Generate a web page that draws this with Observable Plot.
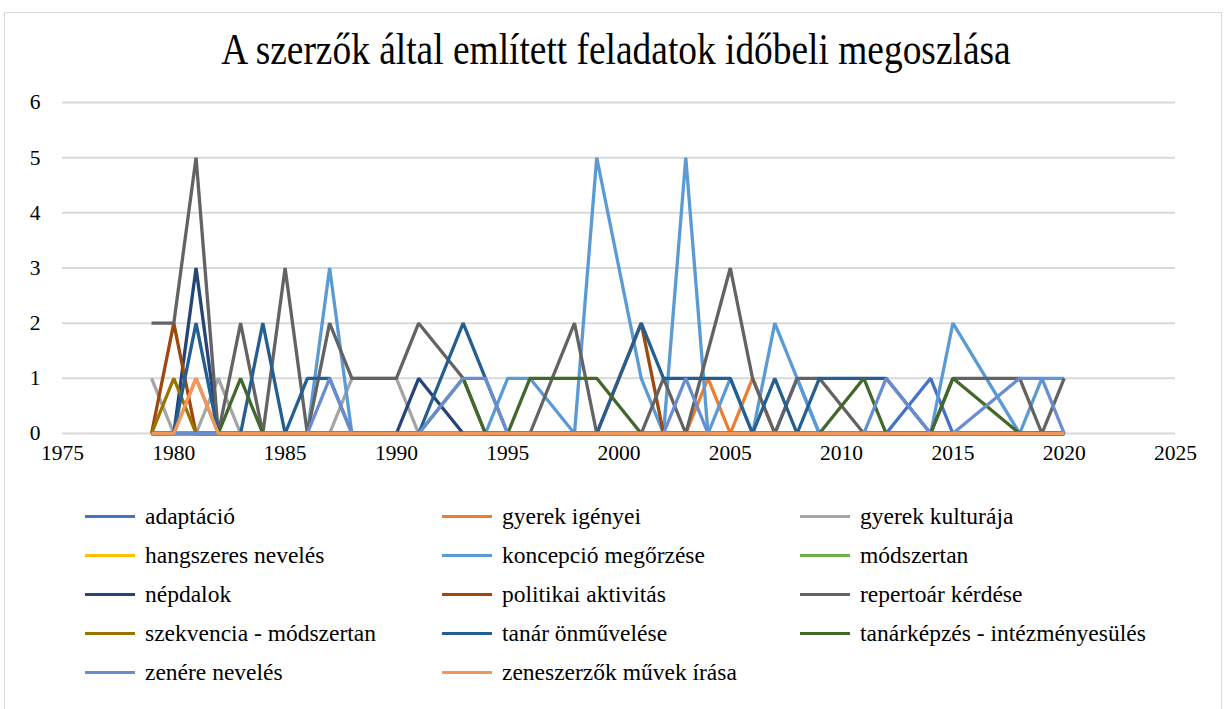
<!DOCTYPE html>
<html>
<head>
<meta charset="utf-8">
<script src="https://cdn.jsdelivr.net/npm/d3@7"></script>
<script src="https://cdn.jsdelivr.net/npm/@observablehq/plot@0.6"></script>
<style>
  html, body { margin: 0; padding: 0; background: #fff; }
  body { width: 1232px; height: 709px; position: relative; overflow: hidden; font-family: "Liberation Serif", Tinos, "Times New Roman", serif; }
  #frame { position: absolute; left: 4px; top: 12px; width: 1218px; height: 720px; border: 1px solid #d9d9d9; box-sizing: border-box; }
  #title { position: absolute; left: 0; top: 25px; width: 1232px; text-align: center; font-size: 44px; line-height: 50px; color: #000; transform: scaleX(0.85); transform-origin: 616px 0; white-space: nowrap; }
  #chart { position: absolute; left: 0; top: 90px; }
  #legend { position: absolute; left: 0; top: 0; width: 1232px; }
  .item { position: absolute; height: 26px; display: flex; align-items: center; font-size: 23.5px; color: #000; white-space: nowrap; }
  .sw { width: 50px; height: 3px; margin-right: 10px; }
</style>
</head>
<body>
<div id="frame"></div>
<div id="title">A szerzők által említett feladatok időbeli megoszlása</div>
<div id="chart"></div>
<div id="legend"></div>
<script>
// Series names (legend order) and colours
const seriesNames = [
  "adaptáció", "gyerek igényei", "gyerek kulturája",
  "hangszeres nevelés", "koncepció megőrzése", "módszertan",
  "népdalok", "politikai aktivitás", "repertoár kérdése",
  "szekvencia - módszertan", "tanár önművelése", "tanárképzés - intézményesülés",
  "zenére nevelés", "zeneszerzők művek írása"
];
const seriesColors = [
  "#4472c4", "#ed7d31", "#a5a5a5",
  "#ffc000", "#5b9bd5", "#70ad47",
  "#264478", "#9e480e", "#636363",
  "#997300", "#255e91", "#43682b",
  "#698ed0", "#f1975a"
];

// [year, count] points per series
const adaptacio = [[1979,0],[2007,0],[2008,1],[2009,0],[2012,0],[2014,1],[2015,0],[2020,0]];
const gyerekIgenyei = [[1979,0],[1980,0],[1981,1],[1982,0],[2003,0],[2004,1],[2005,0],[2006,1],[2007,0],[2020,0]];
const gyerekKulturaja = [[1979,1],[1980,0],[1981,0],[1982,1],[1983,0],[1987,0],[1988,1],[1990,1],[1991,0],[2020,0]];
const hangszeres = [[1979,0],[2020,0]];
const koncepcio = [[1979,0],[1986,0],[1987,3],[1988,0],[1994,0],[1995,1],[1996,1],[1998,0],[1999,5],[2001,1],[2002,0],[2003,5],[2004,0],[2005,1],[2006,0],[2007,2],[2008,1],[2009,0],[2014,0],[2015,2],[2018,0],[2019,1],[2020,1]];
const modszertan = [[1979,0],[2020,0]];
const nepdalok = [[1979,0],[1980,0],[1981,3],[1982,0],[1990,0],[1991,1],[1993,0],[2020,0]];
const politikai = [[1979,0],[1980,2],[1981,0],[1999,0],[2001,2],[2002,0],[2020,0]];
const repertoar = [[1979,2],[1980,2],[1981,5],[1982,0],[1983,2],[1984,0],[1985,3],[1986,0],[1987,2],[1988,1],[1990,1],[1991,2],[1993,1],[1994,0],[1996,0],[1998,2],[1999,0],[2001,0],[2002,1],[2003,0],[2005,3],[2006,1],[2007,0],[2008,1],[2009,1],[2011,0],[2014,0],[2015,1],[2018,1],[2019,0],[2020,1]];
const szekvencia = [[1979,0],[1980,1],[1981,0],[2020,0]];
const tanarOnmuvelese = [[1979,0],[1980,0],[1981,2],[1982,0],[1983,0],[1984,2],[1985,0],[1986,1],[1987,1],[1988,0],[1991,0],[1993,2],[1994,1],[1995,0],[1999,0],[2001,2],[2002,1],[2005,1],[2006,0],[2007,1],[2008,0],[2009,1],[2012,1],[2014,0],[2020,0]];
const tanarkepzes = [[1979,0],[1982,0],[1983,1],[1984,0],[1991,0],[1993,1],[1994,0],[1995,0],[1996,1],[1999,1],[2001,0],[2009,0],[2011,1],[2012,0],[2014,0],[2015,1],[2018,0],[2020,0]];
const zenereNeveles = [[1979,0],[1986,0],[1987,1],[1988,0],[1991,0],[1993,1],[1994,1],[1995,0],[2002,0],[2003,1],[2004,0],[2011,0],[2012,1],[2014,0],[2015,0],[2018,1],[2019,1],[2020,0]];
const zeneszerzok = [[1979,0],[1980,0],[1981,1],[1982,0],[2020,0]];

const seriesPoints = [adaptacio, gyerekIgenyei, gyerekKulturaja, hangszeres, koncepcio, modszertan,
  nepdalok, politikai, repertoar, szekvencia, tanarOnmuvelese, tanarkepzes, zenereNeveles, zeneszerzok];

const xTicks = [1975, 1980, 1985, 1990, 1995, 2000, 2005, 2010, 2015, 2020, 2025];
const yTicks = [0, 1, 2, 3, 4, 5, 6];

const rows = seriesNames.flatMap((name, i) =>
  seriesPoints[i].map(([year, value]) => ({name, year, value})));

const serif = '"Liberation Serif", Tinos, "Times New Roman", serif';

const chart = Plot.plot({
  width: 1232,
  height: 390,
  marginLeft: 62,
  marginRight: 57,
  marginTop: 12,
  marginBottom: 47,
  style: {fontFamily: serif, fontSize: "21.5px", color: "#000", background: "transparent"},
  x: {domain: [1975, 2025], ticks: xTicks, tickFormat: d => String(d), label: null, tickSize: 0, tickPadding: 11},
  y: {domain: [0, 6], ticks: yTicks, tickFormat: d => String(d), label: null, tickSize: 0, tickPadding: 22},
  color: {domain: seriesNames, range: seriesColors},
  marks: [
    Plot.gridY(yTicks.filter(d => d > 0), {stroke: "#d9d9d9", strokeOpacity: 1, strokeWidth: 2}),
    Plot.ruleY([0], {stroke: "#d9d9d9", strokeWidth: 2}),
    Plot.line(rows, {x: "year", y: "value", z: "name", stroke: "name", strokeWidth: 3.3, strokeLinejoin: "miter", strokeLinecap: "butt"})
  ]
});
document.getElementById("chart").appendChild(chart);

// Legend (3 columns)
const legend = document.getElementById("legend");
const colX = [85, 442, 800];
const rowY = [503, 542, 581, 620, 659];
seriesNames.forEach((name, i) => {
  const el = document.createElement("div");
  el.className = "item";
  el.style.left = colX[i % 3] + "px";
  el.style.top = rowY[Math.floor(i / 3)] + "px";
  const sw = document.createElement("div");
  sw.className = "sw";
  sw.style.background = seriesColors[i];
  const tx = document.createElement("span");
  tx.textContent = name;
  el.appendChild(sw);
  el.appendChild(tx);
  legend.appendChild(el);
});
</script>
</body>
</html>
